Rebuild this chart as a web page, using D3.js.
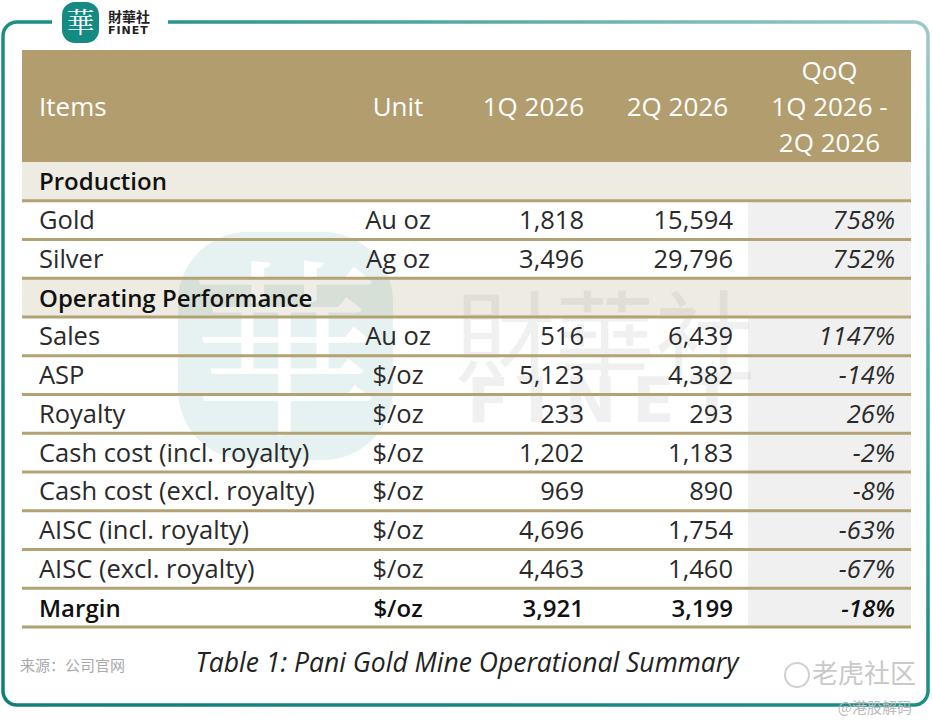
<!DOCTYPE html>
<html>
<head>
<meta charset="utf-8">
<script src="https://cdn.jsdelivr.net/npm/d3@7"></script>
<style>
  body { margin: 0; background: #fff; }
  svg { display: block; font-family: "Open Sans", "Noto Sans", sans-serif; }
</style>
</head>
<body>
<svg id="chart" width="932" height="727"></svg>
<script>
/*=================
=== Table data
=================*/
const headers = ['Items', 'Unit', '1Q 2026', '2Q 2026'];
const qoqHeader = ['QoQ', '1Q 2026 -', '2Q 2026'];

// kind: section rows have only a label, bold rows are the totals
const items = ['Production', 'Gold', 'Silver', 'Operating Performance', 'Sales', 'ASP', 'Royalty',
  'Cash cost (incl. royalty)', 'Cash cost (excl. royalty)', 'AISC (incl. royalty)', 'AISC (excl. royalty)', 'Margin'];
const kinds = ['section', 'row', 'row', 'section', 'row', 'row', 'row', 'row', 'row', 'row', 'row', 'bold'];
const units = ['', 'Au oz', 'Ag oz', '', 'Au oz', '$/oz', '$/oz', '$/oz', '$/oz', '$/oz', '$/oz', '$/oz'];
const q1Values = [null, 1818, 3496, null, 516, 5123, 233, 1202, 969, 4696, 4463, 3921];
const q2Values = [null, 15594, 29796, null, 6439, 4382, 293, 1183, 890, 1754, 1460, 3199];
const qoqValues = [null, '758%', '752%', null, '1147%', '-14%', '26%', '-2%', '-8%', '-63%', '-67%', '-18%'];

const caption = 'Table 1: Pani Gold Mine Operational Summary';
const source = '来源：公司官网';

/*=================
=== Layout
=================*/
const tableLeft = 22;
const tableRight = 911;
const headTop = 50;
const headBottom = 162;
const tableBottom = 627;
const qoqLeft = 748;

const colors = {
  head: '#b19d6e',
  section: '#eeebe2',
  shade: '#f0f0f0',
  line: '#b3a273',
  text: '#1f1f1f',
  teal: '#148a81'
};

const fmt = d3.format(',');

const svg = d3.select('#chart');
const defs = svg.append('defs');

const grad = defs.append('linearGradient')
  .attr('id', 'frameGrad')
  .attr('x1', 0).attr('y1', 1).attr('x2', 1).attr('y2', 0);
grad.append('stop').attr('offset', '0%').attr('stop-color', '#117f77');
grad.append('stop').attr('offset', '55%').attr('stop-color', '#1d8f86');
grad.append('stop').attr('offset', '100%').attr('stop-color', '#9ccbc8');

// Rows through a band scale
const rowIdx = d3.range(items.length);
const yScale = d3.scaleBand()
  .domain(rowIdx)
  .range([headBottom, tableBottom]);

// Text anchors per column (unit is centred, the numbers are right aligned)
const colX = d3.scaleOrdinal()
  .domain(['item', 'unit', 'q1', 'q2', 'qoq'])
  .range([39, 398, 584, 733, 895]);

/*=================
=== Frame
=================*/
const fx0 = 3, fy0 = 22, fx1 = 928, fy1 = 705, r = 14;
const framePath = d3.path();
framePath.moveTo(52, fy0);
framePath.lineTo(fx0 + r, fy0);
framePath.arcTo(fx0, fy0, fx0, fy0 + r, r);
framePath.lineTo(fx0, fy1 - r);
framePath.arcTo(fx0, fy1, fx0 + r, fy1, r);
framePath.lineTo(fx1 - r, fy1);
framePath.arcTo(fx1, fy1, fx1, fy1 - r, r);
framePath.lineTo(fx1, fy0 + r);
framePath.arcTo(fx1, fy0, fx1 - r, fy0, r);
framePath.lineTo(168, fy0);

svg.append('path')
  .attr('d', framePath.toString())
  .attr('fill', 'none')
  .attr('stroke', 'url(#frameGrad)')
  .attr('stroke-width', 3.5);

// Logo
const logo = svg.append('g');
logo.append('rect')
  .attr('x', 62).attr('y', 2).attr('width', 37).attr('height', 41)
  .attr('rx', 13).attr('fill', colors.teal);
logo.append('text')
  .attr('x', 80.5).attr('y', 33)
  .attr('text-anchor', 'middle')
  .attr('font-family', '"Noto Serif CJK SC", "Noto Sans CJK TC", serif')
  .attr('font-size', 28)
  .attr('fill', '#fff')
  .text('華');
logo.append('text')
  .attr('x', 108).attr('y', 22)
  .attr('font-family', '"Noto Sans CJK TC", sans-serif')
  .attr('font-weight', 700)
  .attr('font-size', 14)
  .attr('fill', '#222')
  .text('財華社');
logo.append('text')
  .attr('x', 108).attr('y', 34)
  .attr('font-family', '"DejaVu Sans", sans-serif')
  .attr('font-weight', 700)
  .attr('font-size', 11)
  .attr('letter-spacing', 1)
  .attr('fill', '#222')
  .text('FINET');

/*=================
=== Table backgrounds
=================*/
svg.append('rect')
  .attr('x', tableLeft).attr('y', headTop)
  .attr('width', tableRight - tableLeft).attr('height', headBottom - headTop)
  .attr('fill', colors.head);

const bgRows = svg.append('g');
bgRows.selectAll('rect.section')
  .data(rowIdx.filter(i => kinds[i] === 'section'))
  .enter().append('rect')
  .attr('class', 'section')
  .attr('x', tableLeft).attr('y', i => yScale(i))
  .attr('width', tableRight - tableLeft).attr('height', yScale.bandwidth())
  .attr('fill', colors.section);

bgRows.selectAll('rect.shade')
  .data(rowIdx.filter(i => kinds[i] !== 'section'))
  .enter().append('rect')
  .attr('class', 'shade')
  .attr('x', qoqLeft).attr('y', i => yScale(i))
  .attr('width', tableRight - qoqLeft).attr('height', yScale.bandwidth())
  .attr('fill', colors.shade);

/*=================
=== Watermark
=================*/
const wm = svg.append('g').attr('opacity', 0.1);
wm.append('rect')
  .attr('x', 178).attr('y', 232).attr('width', 215).attr('height', 228)
  .attr('rx', 70).attr('fill', colors.teal);
wm.append('text')
  .attr('x', 285).attr('y', 420)
  .attr('text-anchor', 'middle')
  .attr('font-family', '"Noto Serif CJK SC", "Noto Sans CJK TC", serif')
  .attr('font-size', 190)
  .attr('fill', '#fff')
  .text('華');
const wm2 = svg.append('g').attr('opacity', 0.09);
wm2.append('text')
  .attr('x', 605).attr('y', 375)
  .attr('text-anchor', 'middle')
  .attr('font-family', '"Noto Sans CJK TC", sans-serif')
  .attr('font-size', 100)
  .attr('fill', '#666')
  .text('財華社');
wm2.append('text')
  .attr('x', 608).attr('y', 422)
  .attr('text-anchor', 'middle')
  .attr('font-family', '"DejaVu Sans", sans-serif')
  .attr('font-weight', 700)
  .attr('font-size', 62)
  .attr('letter-spacing', 16)
  .attr('fill', '#666')
  .text('FINET');

/*=================
=== Row separators
=================*/
svg.append('g').selectAll('line')
  .data(rowIdx)
  .enter().append('line')
  .attr('x1', tableLeft).attr('x2', tableRight)
  .attr('y1', i => yScale(i) + yScale.bandwidth())
  .attr('y2', i => yScale(i) + yScale.bandwidth())
  .attr('stroke', i => kinds[i] === 'bold' ? '#aea171' : colors.line)
  .attr('stroke-width', 3);

/*=================
=== Header text
=================*/
const head = svg.append('g')
  .attr('fill', '#fff')
  .attr('font-size', 26);
head.selectAll('text.h')
  .data(headers)
  .enter().append('text')
  .attr('class', 'h')
  .attr('x', (d, i) => [39, 398, 584, 728][i])
  .attr('y', 116)
  .attr('text-anchor', (d, i) => ['start', 'middle', 'end', 'end'][i])
  .text(d => d);
head.selectAll('text.qoq')
  .data(qoqHeader)
  .enter().append('text')
  .attr('class', 'qoq')
  .attr('x', (qoqLeft + tableRight) / 2)
  .attr('y', (d, i) => 80 + i * 36)
  .attr('text-anchor', 'middle')
  .text(d => d);

/*=================
=== Body text
=================*/
const body = svg.append('g')
  .attr('fill', colors.text);

const rows = body.selectAll('g.row')
  .data(rowIdx)
  .enter().append('g')
  .attr('class', 'row')
  .attr('transform', i => `translate(0, ${yScale(i) + yScale.bandwidth() / 2 + 9})`)
  .attr('font-size', i => kinds[i] === 'row' ? 25.5 : 24)
  .attr('font-weight', i => kinds[i] === 'row' ? 400 : 600)
  .attr('fill', i => kinds[i] === 'row' ? '#2a2a2a' : '#111');

rows.append('text')
  .attr('x', colX('item'))
  .text(i => items[i]);

const valueRows = rows.filter(i => kinds[i] !== 'section');
valueRows.append('text')
  .attr('x', colX('unit')).attr('text-anchor', 'middle')
  .text(i => units[i]);
valueRows.append('text')
  .attr('x', colX('q1')).attr('text-anchor', 'end')
  .text(i => fmt(q1Values[i]));
valueRows.append('text')
  .attr('x', colX('q2')).attr('text-anchor', 'end')
  .text(i => fmt(q2Values[i]));
valueRows.append('text')
  .attr('x', colX('qoq')).attr('text-anchor', 'end')
  .attr('font-style', 'italic')
  .text(i => qoqValues[i]);

/*=================
=== Caption and marks
=================*/
svg.append('text')
  .attr('x', 467).attr('y', 672)
  .attr('text-anchor', 'middle')
  .attr('font-style', 'italic')
  .attr('font-size', 26.5)
  .attr('fill', '#222')
  .text(caption);

svg.append('text')
  .attr('x', 20).attr('y', 671)
  .attr('font-family', '"Noto Sans CJK SC", sans-serif')
  .attr('font-size', 15)
  .attr('fill', '#aaa')
  .text(source);

const tiger = svg.append('g').attr('fill', '#c9c9c9');
tiger.append('circle')
  .attr('cx', 797).attr('cy', 675).attr('r', 12)
  .attr('fill', 'none').attr('stroke', '#d0d0d0').attr('stroke-width', 2);
tiger.append('text')
  .attr('x', 812).attr('y', 683)
  .attr('font-family', '"Noto Sans CJK SC", sans-serif')
  .attr('font-size', 26)
  .text('老虎社区');
svg.append('text')
  .attr('x', 912).attr('y', 713)
  .attr('text-anchor', 'end')
  .attr('font-family', '"Noto Sans CJK SC", sans-serif')
  .attr('font-size', 15)
  .attr('fill', '#bbb')
  .text('@港股解码');
</script>
</body>
</html>
